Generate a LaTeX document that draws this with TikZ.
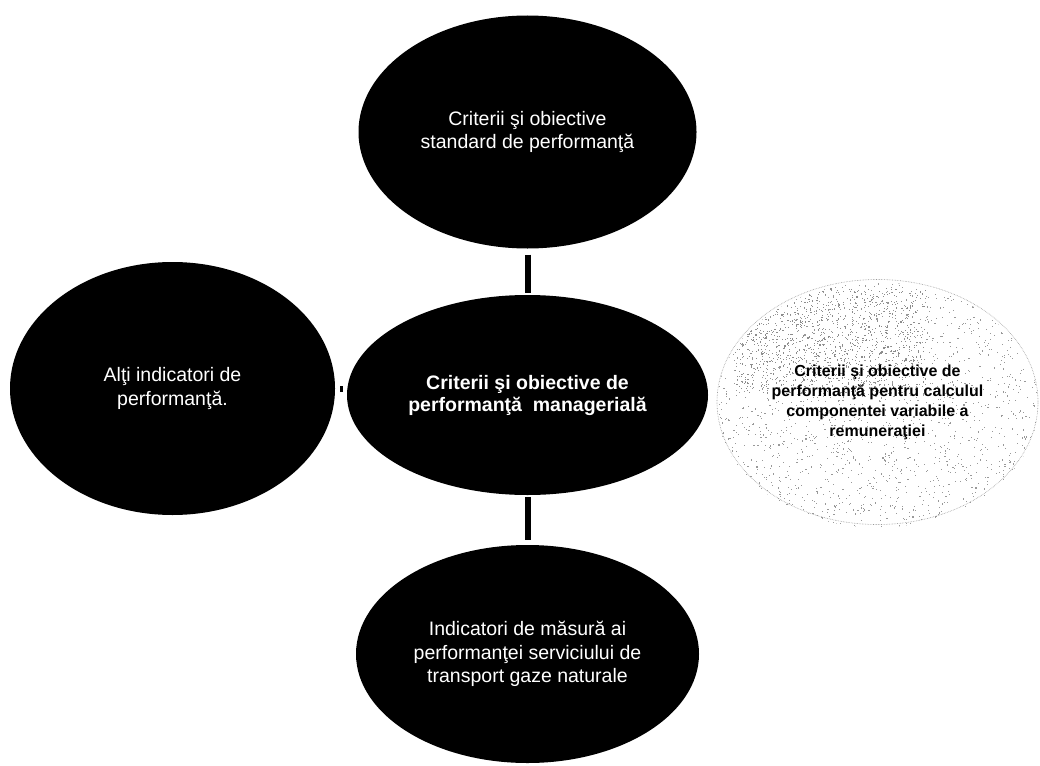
\documentclass[tikz,border=0pt]{standalone}
\usepackage{fontspec}
\setmainfont{Liberation Sans}
\usetikzlibrary{shapes.geometric}
\begin{document}
\begin{tikzpicture}[x=1pt,y=-1pt,
  blob/.style={ellipse, fill=black, text=white, inner sep=0pt, align=center,
    font=\fontsize{19.5}{23.5}\selectfont},
  grainy/.style={ellipse, draw=black!40, densely dotted, line width=0.6pt, inner sep=0pt,
    align=center, text=black, font=\fontsize{16}{20}\selectfont\bfseries},
  conn/.style={line width=6pt, draw=black}]
\useasboundingbox[fill=white] (0,0) rectangle (1040,765);

% stippled texture of the right ellipse
\pgfmathsetseed{7}
\begin{scope}
  \clip (877.5,405) ellipse [x radius=160.5, y radius=122.5];
  \foreach \i in {1,...,2000}{
    \pgfmathsetmacro\xx{717+321*rnd}
    \pgfmathsetmacro\yy{282+246*rnd}
    \fill[black!40] (\xx,\yy) rectangle ++(1.1,1.1);
  }
  \foreach \i in {1,...,1100}{
    \pgfmathsetmacro\xx{735+190*rnd}
    \pgfmathsetmacro\yy{288+105*rnd}
    \fill[black!45] (\xx,\yy) rectangle ++(1.1,1.1);
  }
\end{scope}

\node[blob, minimum width=338pt, minimum height=233pt] (top) at (527.5,132)
  {Criterii şi obiective\\standard de performanţă};
\node[blob, minimum width=361pt, minimum height=200pt,
  font=\fontsize{19.5}{22}\selectfont\bfseries] (ctr) at (527.5,395)
  {Criterii şi obiective de\\performanţă\ \ managerială};
\node[blob, minimum width=325pt, minimum height=253pt] (left) at (172.5,388.5)
  {Alţi indicatori de\\performanţă.};
\node[blob, minimum width=343pt, minimum height=218pt] (bot) at (527.5,654)
  {Indicatori de măsură ai\\performanţei serviciului de\\transport gaze naturale};
\node[grainy, minimum width=321pt, minimum height=245pt] (right) at (877.5,402)
  {Criterii şi obiective de\\performanţă pentru calculul\\componentei variabile a\\remuneraţiei};

\draw[conn, shorten <=6pt, shorten >=2pt] (top.south) -- (ctr.north);
\draw[conn, shorten <=2pt, shorten >=4.5pt] (ctr.south) -- (bot.north);
\draw[line width=6pt, shorten <=5pt, shorten >=4pt] (left.east) -- (left.east -| ctr.west);
\end{tikzpicture}
\end{document}
